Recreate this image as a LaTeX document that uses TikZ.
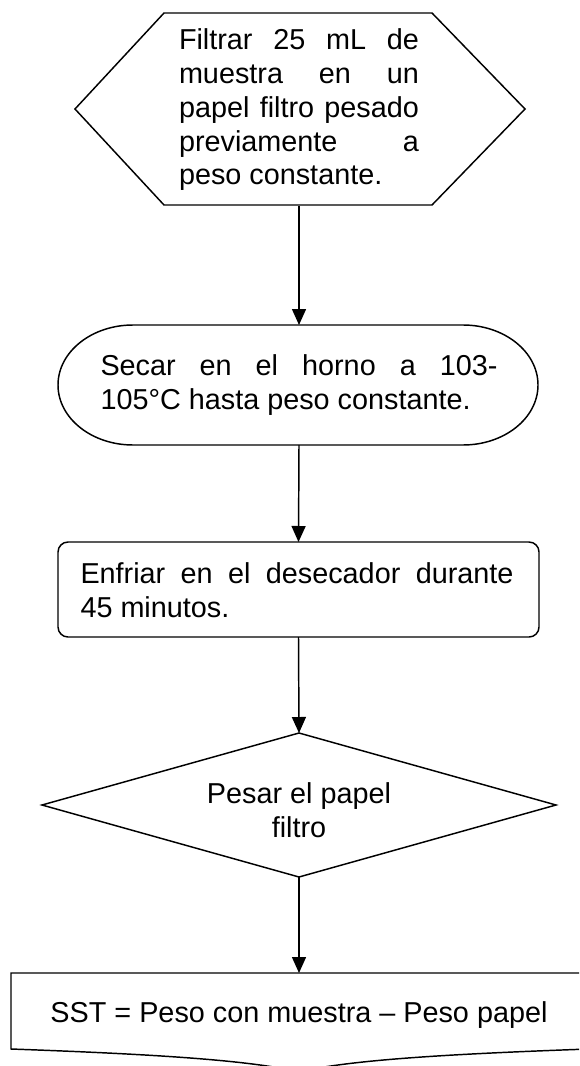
\documentclass[tikz,border=0pt]{standalone}
\usepackage{fontspec}
\setmainfont{Liberation Sans}
\usetikzlibrary{arrows.meta,shapes.geometric}
\begin{document}
\begin{tikzpicture}[x=0.75pt,y=-0.75pt,
  every node/.style={font=\fontsize{21.6pt}{25.3pt}\selectfont},
  outline/.style={draw=black,line width=1.1pt,line join=miter},
  lbl/.style={inner sep=0pt,outer sep=0pt,align=left},
  flow/.style={draw=black,line width=1.1pt,-{Triangle[length=12pt,width=10.5pt]}},
  procbox/.style={draw=black,line width=1.1pt,rounded corners=7.5pt,inner sep=0pt,outer sep=0pt,
     minimum width=360.75pt,minimum height=71.25pt},
  decbox/.style={diamond,draw=black,line width=1.1pt,inner sep=0pt,outer sep=0pt,
     minimum width=385.5pt,minimum height=108pt}]
\useasboundingbox (0,0) rectangle (579,1066);
\fill[white] (0,0) rectangle (579,1066);
\clip (0,0) rectangle (579,1066);

% hexagon
\draw[outline] (164,13) -- (432,13) -- (525,109) -- (432,205) -- (164,205) -- (75,109) -- cycle;
\node[lbl,minimum height=144pt] (hex) at (299,110) {\parbox{180pt}{%
\makebox[180pt][s]{Filtrar 25 mL de}\\
\makebox[180pt][s]{muestra en un}\\
\makebox[180pt][s]{papel filtro pesado}\\
\makebox[180pt][s]{previamente a}\\
peso constante.}};

% terminal
\draw[outline] (133,325) -- (463,325)
  arc[start angle=90,end angle=-90,x radius=56.25pt,y radius=45pt]
  -- (133,445)
  arc[start angle=270,end angle=90,x radius=56.25pt,y radius=45pt] -- cycle;
\node[lbl,minimum height=90pt] (term) at (299,385) {\parbox{297.75pt}{%
\makebox[297.75pt][s]{Secar en el horno a 103-}\\
105°C hasta peso constante.}};

% rounded process box
\node[procbox] (proc) at (298.5,589.5) {};
\node[lbl] (proct) at (297,590) {\parbox{324.75pt}{%
\makebox[324.75pt][s]{Enfriar en el desecador durante}\\
45 minutos.}};

% decision
\node[decbox] (dec) at (299,805) {};
\node[lbl,align=center] (dect) at (299,810) {Pesar el papel\\filtro};

% document
\draw[outline] (589,1049) -- (589,973) -- (11,973) -- (11,1049)
  .. controls (150,1054) and (250,1060) .. (299,1072)
  .. controls (348,1060) and (448,1054) .. (589,1049);
\node[lbl,minimum height=63pt] (doc) at (299,1015) {SST = Peso con muestra – Peso papel};

% connectors
\draw[flow] (hex.south) -- (term.north);
\draw[flow] (term.south) -- (proc.north);
\draw[flow] (proc.south) -- (dec.north);
\draw[flow] (dec.south) -- (doc.north);
\end{tikzpicture}
\end{document}
